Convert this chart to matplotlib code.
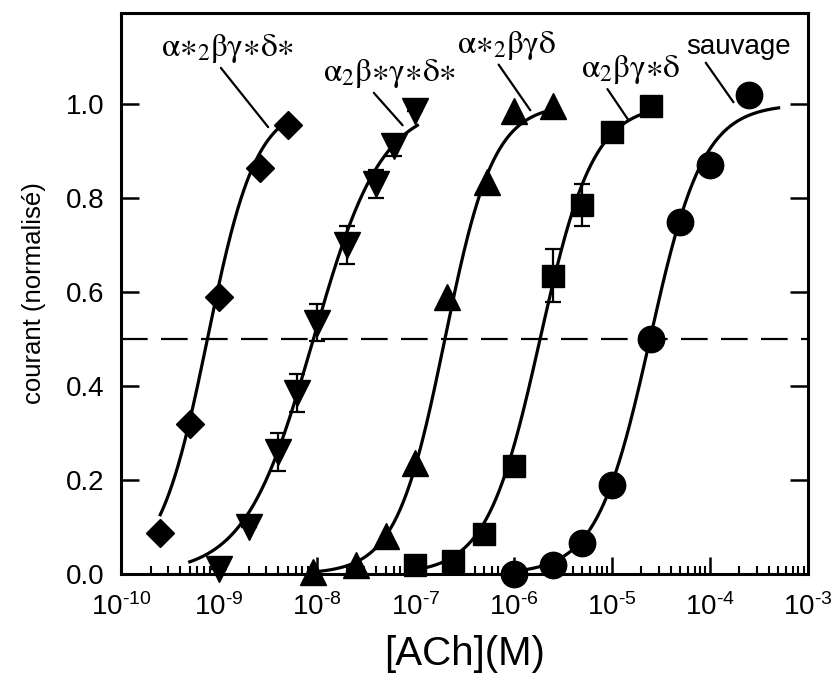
import numpy as np
import matplotlib
matplotlib.use("Agg")
import matplotlib.pyplot as plt
from matplotlib.ticker import FixedLocator, FixedFormatter, LogLocator, NullFormatter

plt.rcParams["font.family"] = ["Liberation Sans", "DejaVu Sans"]
plt.rcParams["mathtext.fontset"] = "custom"
plt.rcParams["mathtext.rm"] = "Liberation Sans"
plt.rcParams["mathtext.it"] = "Liberation Sans:italic"
plt.rcParams["mathtext.bf"] = "Liberation Sans:bold"

# --- data (concentration in M, normalised current) ---
diam_x = [2.5e-10, 5.0e-10, 1.0e-9, 2.6e-9, 5.0e-9]
diam_y = [0.087, 0.32, 0.59, 0.865, 0.955]

tri_dn_x = [1.0e-9, 2.0e-9, 4.0e-9, 6.2e-9, 1.0e-8, 2.0e-8, 4.0e-8, 6.0e-8, 1.0e-7]
tri_dn_y = [0.01, 0.10, 0.26, 0.385, 0.535, 0.70, 0.83, 0.91, 0.985]
tri_dn_err = [0.0, 0.0, 0.04, 0.04, 0.04, 0.04, 0.03, 0.02, 0.0]

tri_up_x = [9.0e-9, 2.5e-8, 5.0e-8, 1.0e-7, 2.1e-7, 5.4e-7, 1.0e-6, 2.5e-6]
tri_up_y = [0.005, 0.02, 0.08, 0.236, 0.59, 0.835, 0.985, 0.995]

sq_x = [1.0e-7, 2.4e-7, 5.0e-7, 1.0e-6, 2.5e-6, 5.0e-6, 1.0e-5, 2.5e-5]
sq_y = [0.02, 0.028, 0.085, 0.23, 0.635, 0.785, 0.94, 0.995]
sq_err = [0.0, 0.0, 0.0, 0.0, 0.057, 0.045, 0.0, 0.0]

circ_x = [1.0e-6, 2.5e-6, 5.0e-6, 1.0e-5, 2.5e-5, 5.0e-5, 1.0e-4, 2.5e-4]
circ_y = [0.0, 0.02, 0.065, 0.19, 0.50, 0.75, 0.87, 1.02]

# Hill fits: log10(EC50), Hill coefficient, fitted range (log10 M)
fit_ec50 = [-9.12, -8.04, -6.70, -5.73, -4.61]
fit_nh = [1.75, 1.25, 1.75, 1.6, 1.6]
fit_lo = [-9.60, -9.30, -8.05, -7.00, -6.00]
fit_hi = [-8.30, -6.98, -5.62, -4.62, -3.30]

labels = [r"$\mathrm{α{\ast}_{2}βγ{\ast}δ{\ast}}$",
          r"$\mathrm{α_{2}β{\ast}γ{\ast}δ{\ast}}$",
          r"$\mathrm{α{\ast}_{2}βγδ}$",
          r"$\mathrm{α_{2}βγ{\ast}δ}$",
          "sauvage"]
lab_pos = [(1.23e-9, 1.083), (5.5e-8, 1.03), (8.5e-7, 1.09), (1.55e-5, 1.038), (1.95e-4, 1.094)]
lab_tip = [(3.16e-9, 0.951), (7.4e-8, 0.955), (1.48e-6, 0.987), (1.48e-5, 0.966), (1.74e-4, 1.004)]
lab_rel = [0.43, 0.36, 0.40, 0.25, 0.17]

xticks = [1e-10, 1e-9, 1e-8, 1e-7, 1e-6, 1e-5, 1e-4, 1e-3]
xtick_labels = ["10$^{‐10}$", "10$^{‐9}$", "10$^{‐8}$", "10$^{‐7}$",
                "10$^{‐6}$", "10$^{‐5}$", "10$^{‐4}$", "10$^{‐3}$"]
yticks = [0.0, 0.2, 0.4, 0.6, 0.8, 1.0]

fig = plt.figure(figsize=(8.38, 6.79), dpi=100)
ax = fig.add_axes([0.1444, 0.1546, 0.8198, 0.8263])

# fitted curves
for ec, nh, lo, hi in zip(fit_ec50, fit_nh, fit_lo, fit_hi):
    lx = np.linspace(lo, hi, 300)
    ax.plot(10 ** lx, 1.0 / (1.0 + 10 ** (nh * (ec - lx))), color="black", lw=2.3, zorder=3)

ax.axhline(0.5, color="black", lw=1.6, dashes=(12, 6), zorder=2)

mk = dict(color="black", linestyle="none", zorder=4, clip_on=False)
ax.plot(diam_x, diam_y, marker="D", ms=14, **mk)
ax.errorbar(tri_dn_x, tri_dn_y, yerr=tri_dn_err, fmt="v", ms=19, color="black",
            ecolor="black", elinewidth=1.6, capsize=6, capthick=1.6, zorder=4, clip_on=False)
ax.plot(tri_up_x, tri_up_y, marker="^", ms=19, **mk)
ax.errorbar(sq_x, sq_y, yerr=sq_err, fmt="s", ms=16, color="black",
            ecolor="black", elinewidth=1.6, capsize=6, capthick=1.6, zorder=4, clip_on=False)
ax.plot(circ_x, circ_y, marker="o", ms=19, **mk)

for lab, pos, tip, rx in zip(labels, lab_pos, lab_tip, lab_rel):
    serif = lab != "sauvage"
    ax.annotate(lab, xy=tip, xytext=pos, ha="center", va="bottom",
                fontsize=24 if serif else 20, math_fontfamily="stix" if serif else "custom",
                arrowprops=dict(arrowstyle="-", lw=1.6, color="black",
                                shrinkA=0, shrinkB=0, relpos=(rx, 0.0)))

ax.set_xscale("log")
ax.set_xlim(1e-10, 1e-3)
ax.set_ylim(0, 1.194)
ax.xaxis.set_major_locator(FixedLocator(xticks))
ax.xaxis.set_major_formatter(FixedFormatter(xtick_labels))
ax.xaxis.set_minor_locator(LogLocator(base=10, subs=np.arange(2, 10), numticks=20))
ax.xaxis.set_minor_formatter(NullFormatter())
ax.set_yticks(yticks)
ax.set_yticklabels([f"{v:.1f}" for v in yticks])

ax.tick_params(axis="x", which="major", direction="in", length=12, width=1.8,
               labelsize=20, pad=14, top=False)
ax.tick_params(axis="x", which="minor", direction="in", length=6, width=1.5, top=False)
ax.tick_params(axis="y", which="major", direction="in", length=13, width=1.8,
               labelsize=20, pad=12, right=True)
for s in ax.spines.values():
    s.set_linewidth(2.2)

ax.set_xlabel("[ACh](M)", fontsize=29, labelpad=10)
ax.set_ylabel("courant (normalisé)", fontsize=18.5, labelpad=14)

fig.savefig("out.png", dpi=100)
